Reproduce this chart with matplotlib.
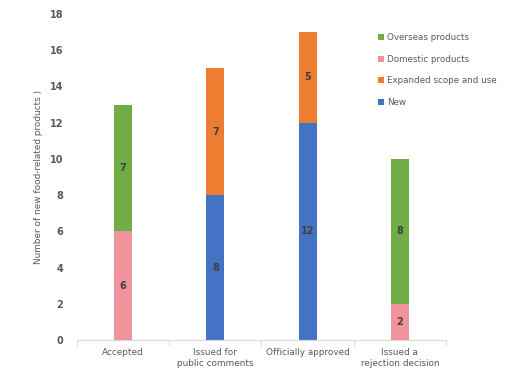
import matplotlib.pyplot as plt
import numpy as np

categories = ['Accepted', 'Issued for\npublic comments', 'Officially approved', 'Issued a\nrejection decision']
new = [0, 8, 12, 0]
expanded = [0, 7, 5, 0]
domestic = [6, 0, 0, 2]
overseas = [7, 0, 0, 8]

c_new = '#4472C4'
c_exp = '#ED7D31'
c_dom = '#F0939D'
c_ovr = '#70AD47'
txt = '#595959'

fig = plt.figure(figsize=(5.18, 3.87), dpi=100)
ax = fig.add_axes([0.1486, 0.1214, 0.7124, 0.8424])

x = np.arange(len(categories))
w = 0.196
new_a = np.array(new)
exp_a = np.array(expanded)
dom_a = np.array(domestic)
ovr_a = np.array(overseas)

b_new = ax.bar(x, new_a, w, color=c_new, label='New')
b_exp = ax.bar(x, exp_a, w, bottom=new_a, color=c_exp, label='Expanded scope and use')
b_dom = ax.bar(x, dom_a, w, bottom=new_a + exp_a, color=c_dom, label='Domestic products')
b_ovr = ax.bar(x, ovr_a, w, bottom=new_a + exp_a + dom_a, color=c_ovr, label='Overseas products')

for bars in (b_new, b_exp, b_dom, b_ovr):
    for r in bars:
        h = r.get_height()
        if h > 0:
            ax.text(r.get_x() + r.get_width() / 2, r.get_y() + h / 2, f'{int(h)}',
                    ha='center', va='center', fontsize=7, fontweight='bold', color='#404040')

ax.set_xlim(-0.5, 3.5)
ax.set_ylim(0, 18)
ax.set_yticks(range(0, 19, 2))
ax.set_xticks(x)
ax.set_xticklabels(categories, fontsize=6.4, color=txt)
ax.set_xticks(np.arange(-0.5, 4.0, 1.0), minor=True)
ax.tick_params(axis='x', which='major', length=0, pad=6)
ax.tick_params(axis='x', which='minor', length=4, color='#D9D9D9', width=0.8)
ax.tick_params(axis='y', length=0, pad=10, labelsize=7, labelcolor=txt)
for lab in ax.get_yticklabels():
    lab.set_fontweight('bold')

for s in ('top', 'right', 'left'):
    ax.spines[s].set_visible(False)
ax.spines['bottom'].set_color('#D9D9D9')

ax.set_ylabel('Number of new food-related products )', fontsize=6.4, color=txt, labelpad=5)

handles = [b_ovr, b_dom, b_exp, b_new]
labels = [h.get_label() for h in handles]
leg = fig.legend(handles, labels, loc='upper left', bbox_to_anchor=(0.715, 0.935),
                 frameon=False, fontsize=6.3, handlelength=0.7, handleheight=0.7,
                 handletextpad=0.3, labelspacing=1.45, labelcolor=txt)

fig.savefig('out.png', dpi=100)
